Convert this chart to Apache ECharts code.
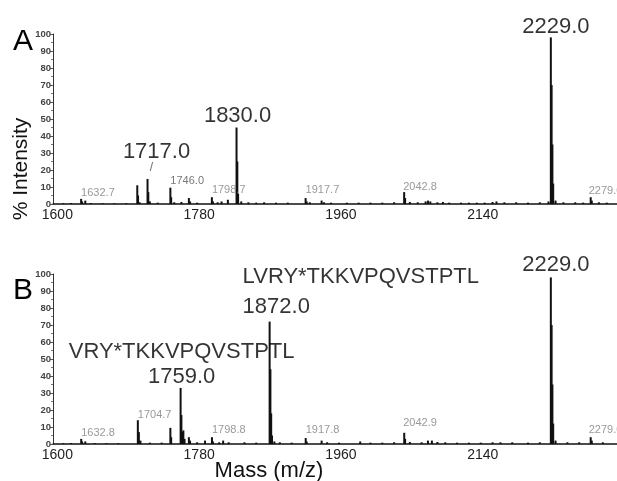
<!DOCTYPE html>
<html><head><meta charset="utf-8">
<script src="https://cdn.jsdelivr.net/npm/echarts@6/dist/echarts.min.js"></script>
<style>html,body{margin:0;padding:0;background:#fff}#c{width:617px;height:481px}</style>
</head><body><div id="c"></div><script>
// ---- data ----
const xTickValues = [1600, 1780, 1960, 2140];
const yMin = 0, yMax = 100, yStep = 10;

const massA = [1610,1620,1632.7,1634,1638,1645,1660,1675,1690,1704,1705,1707,1717,1718,1720,1730,1746,1747,1751,1760,1769.5,1771,1780,1798.7,1800,1806,1811,1819,1830,1831,1832,1836,1845,1855,1865,1880,1895,1917.7,1919,1923,1938,1941,1950,1970,1985,2000,2015,2030,2042.8,2044,2050,2060,2070,2073,2076,2085,2092,2100,2115,2125,2135,2145,2155,2160,2170,2185,2200,2215,2226,2229,2230,2231,2232,2235,2245,2260,2270,2279.6,2281,2290,2300];
const intA  = [0.5,0.6,3,1.5,2,0.6,0.5,0.4,0.5,11,5,1,14.7,7,1.5,0.8,9.6,4,1,1.2,3.5,1.5,0.8,4,1.5,1,1.5,2.5,45,25,6,1.5,1,0.8,1,0.8,0.8,3.5,1.5,1,2,1,0.8,0.8,0.8,0.8,0.8,1,7,3.5,1.2,1,1.5,2,1.5,1,1.2,0.8,0.8,0.8,0.8,0.8,1.2,1.5,1,1,0.8,1,1.5,98,70,35,12,2,1,1,0.8,4,2,1,0.8];

const massB = [1610,1620,1632.8,1634,1638,1650,1665,1680,1704.7,1706,1708,1720,1735,1746,1747,1759,1760,1761,1762.5,1764,1769.5,1771,1780,1790,1798.8,1800,1808,1813,1820,1840,1855,1872,1873,1874,1875,1878,1885,1900,1917.8,1919,1938,1945,1960,1987,2000,2015,2030,2042.9,2044,2050,2065,2073,2078,2085,2095,2110,2125,2140,2155,2165,2180,2200,2215,2229,2230,2231,2232,2235,2250,2265,2279.6,2281,2295];
const intB  = [0.5,0.6,3,1.5,1.5,0.5,0.5,0.5,14,7,2,0.8,0.8,9.5,4,33,17,7,8,3,4,2,1,2,4,1.5,1,2,1,1,0.8,72,44,18,5,1.5,1,0.8,3.5,1.5,2,1,0.8,1.5,0.8,0.8,1,6.6,3,1.2,1,2,2,1.2,1,0.8,0.8,0.8,1,1,1,0.8,1,98,70,35,12,2,1,1,4,2,1];

// peak annotations: [peak mass, text]
const labelsA = [[1632.7,'1632.7'],[1717,'1717.0'],[1717,'/'],[1746,'1746.0'],[1798.7,'1798.7'],[1830,'1830.0'],[1917.7,'1917.7'],[2042.8,'2042.8'],[2229,'2229.0'],[2279.6,'2279.0']];
const labelsB = [[1632.8,'1632.8'],[1704.7,'1704.7'],[1759,'VRY*TKKVPQVSTPTL\n1759.0'],[1798.8,'1798.8'],[1872,'LVRY*TKKVPQVSTPTL\n1872.0'],[1917.8,'1917.8'],[2042.9,'2042.9'],[2229,'2229.0'],[2279.6,'2279.0']];

// ---- label layout (pixel offsets, style) ----
const big = {fontSize:22, color:'#000'}, small = {fontSize:11, color:'#808080'};
const layoutA = {
  '1632.7':[small,'left',0,0], '1717.0':[big,'center',9,-16], '/':[{fontSize:12,color:'#444'},'center',4,-5],
  '1746.0':[{fontSize:11,color:'#555'},'left',0,-1], '1798.7':[small,'left',0,-2], '1830.0':[big,'center',1,-1],
  '1917.7':[small,'left',0,-3], '2042.8':[small,'left',-1,0], '2229.0':[big,'center',5,1], '2279.0':[small,'left',-2,-1]
};
const layoutB = {
  '1632.8':[small,'left',0,0], '1704.7':[small,'left',0,0], 'VRY*TKKVPQVSTPTL\n1759.0':[Object.assign({lineHeight:25},big),'center',1,1.5],
  '1798.8':[small,'left',0,-2], 'LVRY*TKKVPQVSTPTL\n1872.0':[Object.assign({lineHeight:30},big),'left',-27,0.5],
  '1917.8':[small,'left',0,-3], '2042.9':[small,'left',-1,-4], '2229.0':[big,'center',5,-1.5], '2279.0':[small,'left',-2,-2]
};

const FONT = '"Liberation Sans", Arial, sans-serif';
const chart = echarts.init(document.getElementById('c'), null, {renderer:'canvas'});

function xAxis(gi){
  return {gridIndex:gi, type:'value', min:1597, max:2313,
    axisLine:{show:true, onZero:false, lineStyle:{color:'#111', width:1.5}},
    axisTick:{show:false}, splitLine:{show:false},
    axisLabel:{customValues:xTickValues, formatter:v=>String(v), fontSize:14, color:'#222', fontFamily:FONT, margin:4, padding:[0,0,0,4]}};
}
function yAxis(gi){
  return {gridIndex:gi, type:'value', min:yMin, max:yMax, interval:yStep,
    axisLine:{show:true, lineStyle:{color:'#333', width:1}},
    axisTick:{show:true, length:3, lineStyle:{color:'#555'}},
    minorTick:{show:true, splitNumber:2, length:2, lineStyle:{color:'#777'}},
    splitLine:{show:false},
    axisLabel:{fontSize:9.5, fontWeight:'bold', color:'#444', fontFamily:FONT, margin:2}};
}
function bars(gi, mass, ints){
  return {type:'bar', xAxisIndex:gi, yAxisIndex:gi, barWidth:2, itemStyle:{color:'#111'},
    data: mass.map((m,i)=>[m, ints[i]]), animation:false, silent:true};
}
function labelSeries(gi, labels, mass, ints, layout){
  return {type:'scatter', xAxisIndex:gi, yAxisIndex:gi, symbolSize:0, animation:false, silent:true, z:5,
    data: labels.map(([m,t])=>{
      const [st, align, dx, dy] = layout[t];
      return {value:[m, ints[mass.indexOf(m)]],
        label:Object.assign({show:true, formatter:t, position:'top', distance:0, align:align, offset:[dx,dy], fontFamily:FONT}, st)};
    })};
}

chart.setOption({
  backgroundColor:'#fff',
  animation:false,
  grid:[{left:53, right:0, top:34, height:170}, {left:53, right:0, top:274, height:170}],
  xAxis:[xAxis(0), xAxis(1)],
  yAxis:[yAxis(0), yAxis(1)],
  series:[bars(0, massA, intA), bars(1, massB, intB),
          labelSeries(0, labelsA, massA, intA, layoutA), labelSeries(1, labelsB, massB, intB, layoutB)],
  graphic:[
    {type:'text', left:13, top:27, style:{text:'A', fontSize:30, fill:'#000', fontFamily:FONT}},
    {type:'text', left:13, top:276, style:{text:'B', fontSize:30, fill:'#000', fontFamily:FONT}},
    {type:'text', x:21, y:169, rotation:Math.PI/2, style:{text:'% Intensity', fontSize:21, fill:'#111', fontFamily:FONT, align:'center', verticalAlign:'middle'}},
    {type:'text', x:269, y:471, style:{text:'Mass (m/z)', fontSize:22, fill:'#111', fontFamily:FONT, align:'center', verticalAlign:'middle'}}
  ]
});
</script></body></html>
